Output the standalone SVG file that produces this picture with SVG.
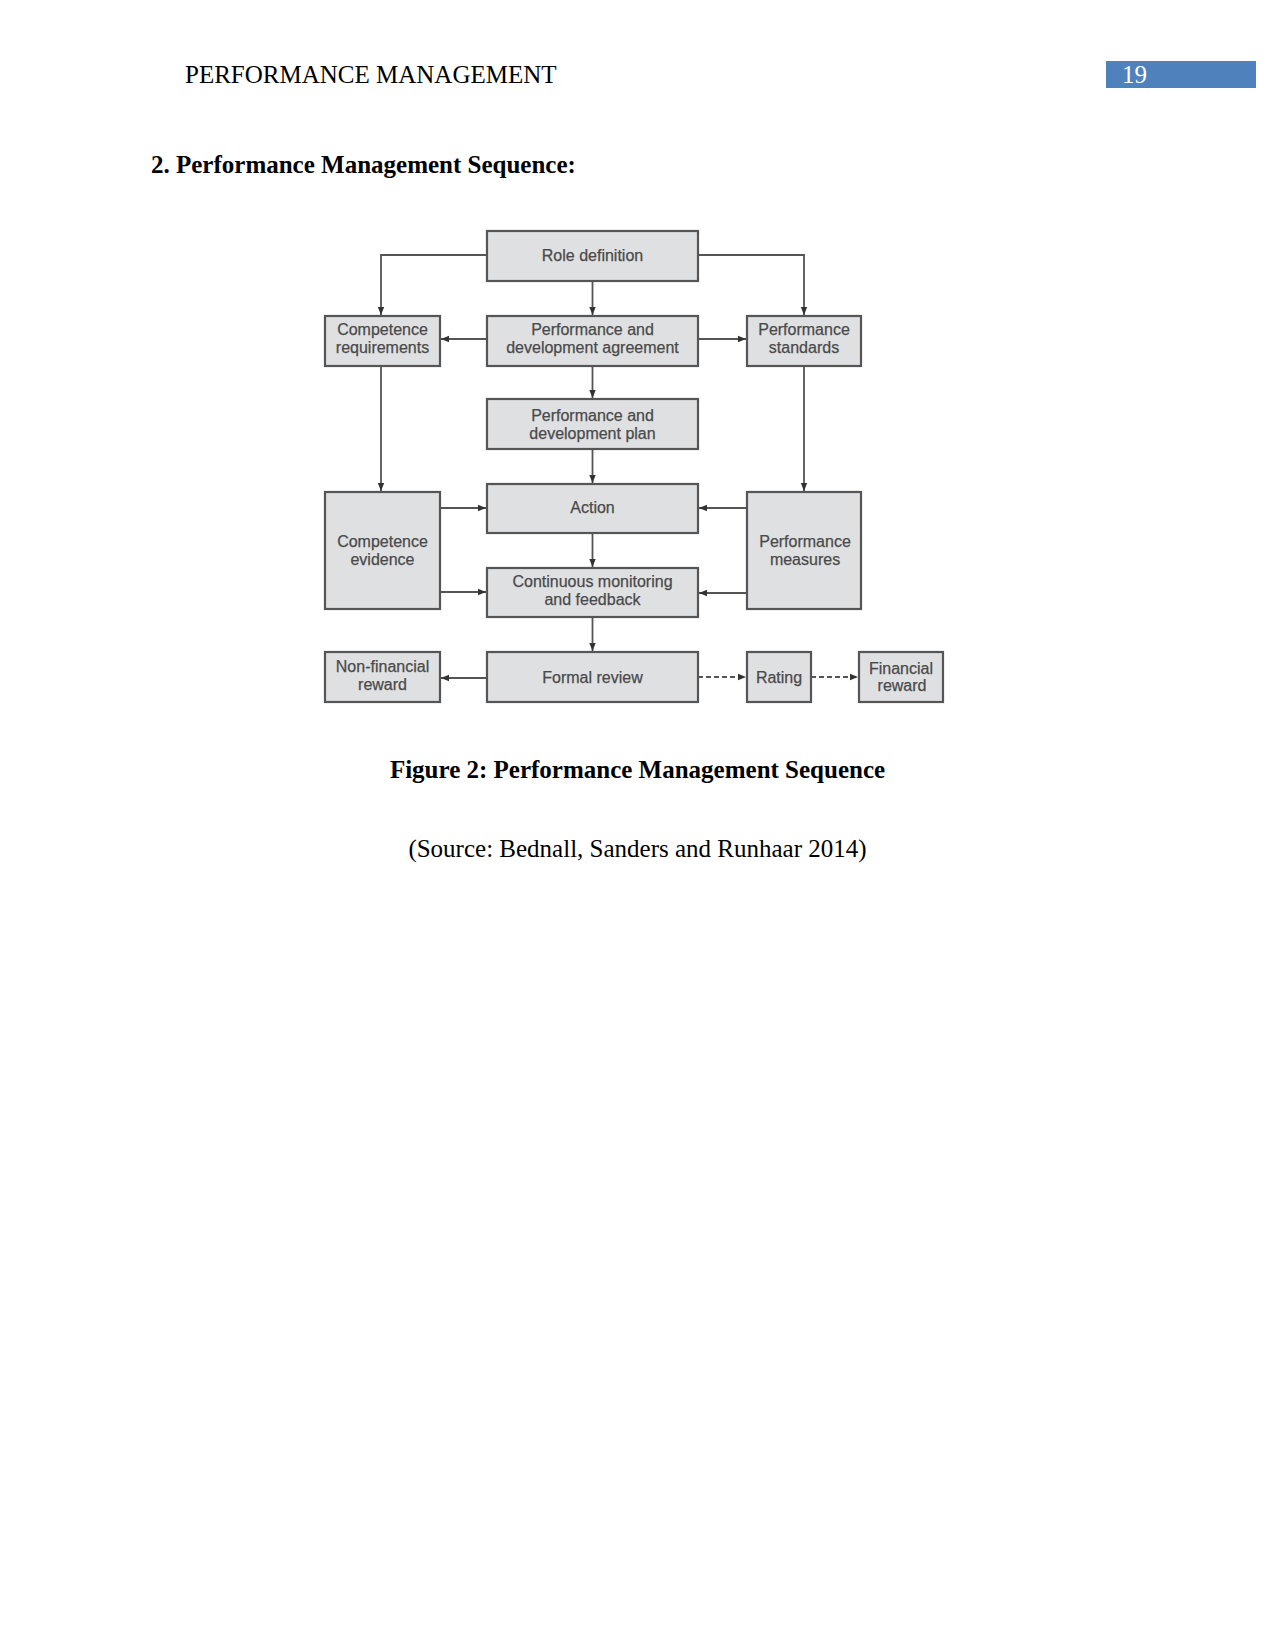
<svg xmlns="http://www.w3.org/2000/svg" width="1275" height="1650" viewBox="0 0 1275 1650">
<defs>
<style>
.page{font-family:"Liberation Serif","Times New Roman",serif;font-size:25px;fill:#000}
.b{font-weight:bold}
.box{fill:#dfe0e2;stroke:#555;stroke-width:2.2}
.lbl{font-family:"Liberation Sans",Arial,sans-serif;font-size:16px;fill:#4a4a4a;text-anchor:middle;stroke:#4a4a4a;stroke-width:0.25}
.ln{fill:none;stroke:#555;stroke-width:1.8}
.dash{stroke-dasharray:5 3}
</style>
<marker id="ah" viewBox="0 0 10 10" refX="10" refY="5" markerWidth="8" markerHeight="8" markerUnits="userSpaceOnUse" orient="auto">
<path d="M0,1 L10,5 L0,9 Z" fill="#333"/>
</marker>
</defs>
<rect width="1275" height="1650" fill="#fff"/>
<text class="page" x="185" y="83">PERFORMANCE MANAGEMENT</text>
<rect x="1106" y="61" width="150" height="27" fill="#4f81bd"/>
<text class="page" x="1122" y="83" style="fill:#fff">19</text>
<text class="page b" x="151" y="173">2. Performance Management Sequence:</text>

<g id="connectors">
<path class="ln" d="M592.5,281 V315" marker-end="url(#ah)"/>
<path class="ln" d="M592.5,366 V398" marker-end="url(#ah)"/>
<path class="ln" d="M592.5,449 V483" marker-end="url(#ah)"/>
<path class="ln" d="M592.5,533 V567" marker-end="url(#ah)"/>
<path class="ln" d="M592.5,617 V651" marker-end="url(#ah)"/>
<path class="ln" d="M487,255 H381 V315" marker-end="url(#ah)"/>
<path class="ln" d="M698,255 H804 V315" marker-end="url(#ah)"/>
<path class="ln" d="M487,339 H441" marker-end="url(#ah)"/>
<path class="ln" d="M698,339 H746" marker-end="url(#ah)"/>
<path class="ln" d="M381,366 V491" marker-end="url(#ah)"/>
<path class="ln" d="M804,366 V491" marker-end="url(#ah)"/>
<path class="ln" d="M440,508 H486" marker-end="url(#ah)"/>
<path class="ln" d="M440,592 H486" marker-end="url(#ah)"/>
<path class="ln" d="M747,508 H699" marker-end="url(#ah)"/>
<path class="ln" d="M747,593 H699" marker-end="url(#ah)"/>
<path class="ln" d="M487,678 H441" marker-end="url(#ah)"/>
<path class="ln dash" d="M698,677 H746" marker-end="url(#ah)"/>
<path class="ln dash" d="M811,677 H858" marker-end="url(#ah)"/>
</g>

<g id="role-definition"><rect class="box" x="487" y="231" width="211" height="50"/><text class="lbl" x="592.5" y="261">Role definition</text></g>
<g id="competence-requirements"><rect class="box" x="325" y="316" width="115" height="50"/><text class="lbl" x="382.5" y="335">Competence</text><text class="lbl" x="382.5" y="353">requirements</text></g>
<g id="pd-agreement"><rect class="box" x="487" y="316" width="211" height="50"/><text class="lbl" x="592.5" y="335">Performance and</text><text class="lbl" x="592.5" y="353">development agreement</text></g>
<g id="performance-standards"><rect class="box" x="747" y="316" width="114" height="50"/><text class="lbl" x="804" y="335">Performance</text><text class="lbl" x="804" y="353">standards</text></g>
<g id="pd-plan"><rect class="box" x="487" y="399" width="211" height="50"/><text class="lbl" x="592.5" y="421">Performance and</text><text class="lbl" x="592.5" y="439">development plan</text></g>
<g id="action"><rect class="box" x="487" y="484" width="211" height="49"/><text class="lbl" x="592.5" y="513">Action</text></g>
<g id="competence-evidence"><rect class="box" x="325" y="492" width="115" height="117"/><text class="lbl" x="382.5" y="547">Competence</text><text class="lbl" x="382.5" y="565">evidence</text></g>
<g id="performance-measures"><rect class="box" x="747" y="492" width="114" height="117"/><text class="lbl" x="805" y="547">Performance</text><text class="lbl" x="805" y="565">measures</text></g>
<g id="monitoring"><rect class="box" x="487" y="568" width="211" height="49"/><text class="lbl" x="592.5" y="587">Continuous monitoring</text><text class="lbl" x="592.5" y="605">and feedback</text></g>
<g id="non-financial-reward"><rect class="box" x="325" y="652" width="115" height="50"/><text class="lbl" x="382.5" y="672">Non-financial</text><text class="lbl" x="382.5" y="690">reward</text></g>
<g id="formal-review"><rect class="box" x="487" y="652" width="211" height="50"/><text class="lbl" x="592.5" y="683">Formal review</text></g>
<g id="rating"><rect class="box" x="747" y="652" width="64" height="50"/><text class="lbl" x="779" y="683">Rating</text></g>
<g id="financial-reward"><rect class="box" x="859" y="652" width="84" height="50"/><text class="lbl" x="901" y="674">Financial</text><text class="lbl" x="902" y="691">reward</text></g>

<text class="page b" x="637.5" y="778" text-anchor="middle">Figure 2: Performance Management Sequence</text>
<text class="page" x="637.5" y="857" text-anchor="middle">(Source: Bednall, Sanders and Runhaar 2014)</text>
</svg>
